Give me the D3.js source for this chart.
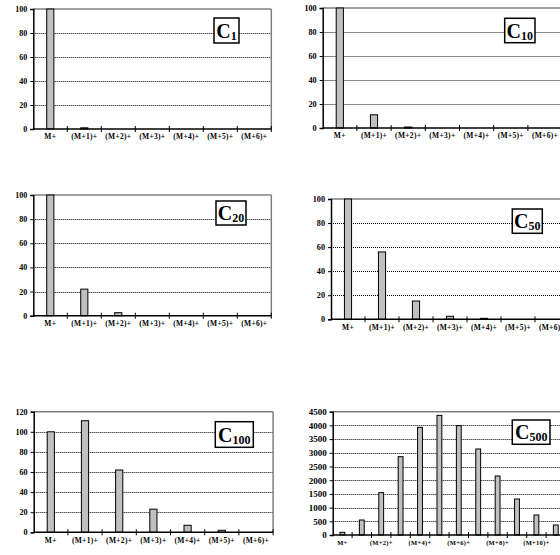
<!DOCTYPE html>
<html>
<head>
<meta charset="utf-8">
<script src="https://cdn.jsdelivr.net/npm/d3@7"></script>
<style>
  html, body { margin: 0; padding: 0; background: #fff; }
  svg { display: block; }
  text { font-family: "Liberation Serif", "Times New Roman", serif; font-weight: bold; }
</style>
</head>
<body>
<svg id="chart" width="560" height="555"></svg>
<script>
// ---------- DATA ----------
const categories7 = ["M+", "(M+1)+", "(M+2)+", "(M+3)+", "(M+4)+", "(M+5)+", "(M+6)+"];
const categories12 = ["M+", "(M+1)+", "(M+2)+", "(M+3)+", "(M+4)+", "(M+5)+", "(M+6)+",
                      "(M+7)+", "(M+8)+", "(M+9)+", "(M+10)+", "(M+11)+"];
const c1Values   = [100, 1, 0, 0, 0, 0, 0];
const c10Values  = [100, 11, 0.8, 0, 0, 0, 0];
const c20Values  = [100, 22, 2.5, 0, 0, 0, 0];
const c50Values  = [100, 56, 15.2, 2.5, 0.8, 0, 0];
const c100Values = [100, 111, 62, 23, 7, 2, 0];
const c500Values = [97, 547, 1545, 2859, 3929, 4367, 3990, 3139, 2153, 1314, 730, 365];
const ticks100 = [0, 20, 40, 60, 80, 100];
const ticks120 = [0, 20, 40, 60, 80, 100, 120];
const ticks4500 = [0, 500, 1000, 1500, 2000, 2500, 3000, 3500, 4000, 4500];
const subscripts = ["1", "10", "20", "50", "100", "500"];

// ---------- LAYOUT ----------
const panels = [
  { cats: categories7,  vals: c1Values,   ticks: ticks100,  sub: subscripts[0],
    x0: 33.3, yTop: 9,     yZero: 129,   band: 34.0, grid: "dot",
    box: [214, 18, 25, 25], yFont: 8, xFont: 7.5, xLab: 10, everyOther: false },
  { cats: categories7,  vals: c10Values,  ticks: ticks100,  sub: subscripts[1],
    x0: 322.7, yTop: 8,    yZero: 128,   band: 34.2, grid: "gray",
    box: [504.7, 18.3, 30.3, 24.4], yFont: 8.2, xFont: 7.5, xLab: 10, everyOther: false },
  { cats: categories7,  vals: c20Values,  ticks: ticks100,  sub: subscripts[2],
    x0: 33.3, yTop: 195,   yZero: 315.7, band: 34.0, grid: "dot",
    box: [216, 201, 30, 24], yFont: 8, xFont: 7.5, xLab: 10.5, everyOther: false },
  { cats: categories7,  vals: c50Values,  ticks: ticks100,  sub: subscripts[3],
    x0: 331, yTop: 199,    yZero: 319.3, band: 34.0, grid: "dot",
    box: [512.3, 209, 30, 24.3], yFont: 8.2, xFont: 7.5, xLab: 11.5, everyOther: false },
  { cats: categories7,  vals: c100Values, ticks: ticks120,  sub: subscripts[4],
    x0: 33.7, yTop: 411.7, yZero: 532.3, band: 34.2, grid: "dot",
    box: [215.3, 421.7, 38, 25.6], yFont: 8.2, xFont: 7.5, xLab: 11.5, everyOther: false },
  { cats: categories12, vals: c500Values, ticks: ticks4500, sub: subscripts[5],
    x0: 332.7, yTop: 411.7, yZero: 535,  band: 19.4, grid: "dot",
    box: [512.3, 420, 37.7, 24.3], yFont: 9, xFont: 6.5, xLab: 10.5, everyOther: true }
];

const svg = d3.select("#chart");

panels.forEach(p => {
  const g = svg.append("g");
  const right = p.x0 + p.cats.length * p.band;
  const x = d3.scaleBand().domain(p.cats).range([p.x0, right]).paddingInner(0).paddingOuter(0);
  const yMax = p.ticks[p.ticks.length - 1];
  const y = d3.scaleLinear().domain([0, yMax]).range([p.yZero, p.yTop]);

  // gridlines
  g.selectAll("line.grid").data(p.ticks.filter(t => t > 0 && t < yMax)).join("line")
    .attr("x1", p.x0).attr("x2", right)
    .attr("y1", d => Math.round(y(d)) + 0.5).attr("y2", d => Math.round(y(d)) + 0.5)
    .attr("stroke", p.grid === "gray" ? "#8a8a8a" : "#000")
    .attr("stroke-width", 1)
    .attr("stroke-dasharray", p.grid === "gray" ? null : "1,1");

  // top & right border (gray)
  g.append("line").attr("x1", p.x0).attr("x2", right)
    .attr("y1", y(yMax)).attr("y2", y(yMax))
    .attr("stroke", "#808080").attr("stroke-width", 1.5);
  g.append("line").attr("x1", right).attr("x2", right)
    .attr("y1", y(yMax)).attr("y2", y(0))
    .attr("stroke", "#808080").attr("stroke-width", 1.5);

  // bars
  const bw = p.band * (p.everyOther ? 0.25 : 0.21);
  g.selectAll("rect.bar").data(p.vals.map((v, i) => ({ c: p.cats[i], v })).filter(d => d.v > 0)).join("rect")
    .attr("x", d => x(d.c) + x.bandwidth() / 2 - bw / 2)
    .attr("y", d => y(d.v))
    .attr("width", bw)
    .attr("height", d => y(0) - y(d.v))
    .attr("fill", "#c0c0c0")
    .attr("stroke", "#000")
    .attr("stroke-width", 1);

  // y axis
  const yAxis = d3.axisLeft(y).tickValues(p.ticks).tickSize(3).tickPadding(3).tickFormat(d3.format("d"));
  const ya = g.append("g").attr("transform", `translate(${p.x0},0)`).call(yAxis);
  ya.select(".domain").attr("stroke", "#000").attr("stroke-width", 1.5);
  ya.selectAll(".tick line").attr("stroke", "#000").attr("stroke-width", 1);
  ya.selectAll(".tick text").attr("font-size", p.yFont).attr("fill", "#000")
    .style("font-family", "'Liberation Serif', serif").style("font-weight", "bold");

  // x axis line
  g.append("line").attr("x1", p.x0).attr("x2", right)
    .attr("y1", y(0)).attr("y2", y(0))
    .attr("stroke", "#000").attr("stroke-width", 1.5);
  // category boundary ticks
  g.selectAll("line.xt").data(p.cats).join("line")
    .attr("x1", d => x(d) + x.bandwidth()).attr("x2", d => x(d) + x.bandwidth())
    .attr("y1", y(0) - 3).attr("y2", y(0) + 3)
    .attr("stroke", "#000").attr("stroke-width", 1);

  // x labels via axis
  const xAxis = d3.axisBottom(x).tickSize(0).tickPadding(0)
    .tickValues(p.everyOther ? p.cats.filter((c, i) => i % 2 === 0) : p.cats);
  const xa = g.append("g").attr("transform", `translate(0,${p.yZero + p.xLab - 3})`).call(xAxis);
  xa.select(".domain").remove();
  xa.selectAll(".tick text").attr("font-size", p.xFont).attr("fill", "#000")
    .attr("dy", "0.35em").attr("y", 0)
    .style("letter-spacing", p.everyOther ? "0.3px" : "0.3px")
    .style("font-family", "'Liberation Serif', serif").style("font-weight", "bold");

  // title box
  const [bx, by, bw2, bh] = p.box;
  g.append("rect").attr("x", bx).attr("y", by).attr("width", bw2).attr("height", bh)
    .attr("fill", "#fff").attr("stroke", "#000").attr("stroke-width", 1.5);
  const t = g.append("text").attr("x", bx + bw2 / 2).attr("y", by + bh / 2 + 7)
    .attr("text-anchor", "middle").attr("fill", "#000");
  t.append("tspan").attr("font-size", 20).text("C");
  t.append("tspan").attr("font-size", 12).attr("dy", 2).text(p.sub);
});
</script>
</body>
</html>
